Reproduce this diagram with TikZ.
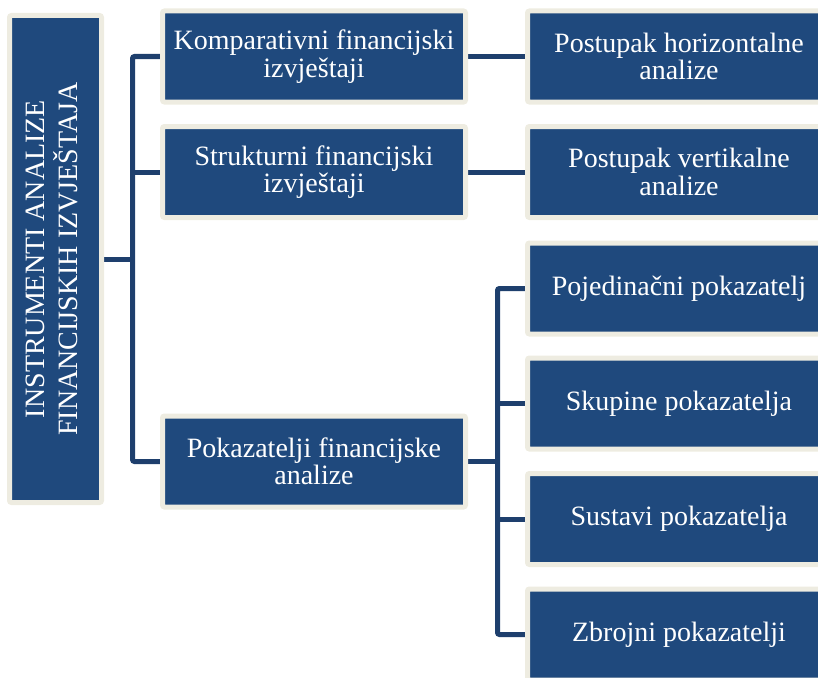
\documentclass[tikz,border=0pt]{standalone}
\usepackage{fontspec}
\setmainfont{Liberation Serif}
\usetikzlibrary{backgrounds}
\definecolor{boxfill}{HTML}{1F497D}
\definecolor{boxrim}{HTML}{EEECE1}
\definecolor{linkc}{HTML}{1E3F6D}
\begin{document}
\begin{tikzpicture}[x=1pt,y=-1pt,
  box/.style={draw=boxrim, line width=5pt, fill=boxfill, text=white,
    rounded corners=2pt, minimum width=303pt, minimum height=91pt,
    inner sep=0pt, outer sep=0pt, align=center,
    font=\fontsize{28}{27.5}\selectfont},
  rootbox/.style={box, minimum width=92pt, minimum height=487pt},
  link/.style={draw=linkc, line width=5pt, rounded corners=2pt}]
\useasboundingbox (0,0) rectangle (818,677);
\clip (0,0) rectangle (818,677);

\node[rootbox] (root) at (55.5,259)
  {\rotatebox{90}{\fontsize{28}{28}\selectfont\begin{tabular}{@{}c@{}}INSTRUMENTI ANALIZE\\FINANCIJSKIH IZVJEŠTAJA\end{tabular}}};

\node[box] (kfi) at (314,56.5) {Komparativni financijski\\izvještaji};
\node[box] (sfi) at (314,172) {Strukturni financijski\\izvještaji};
\node[box] (pfa) at (314,461.5) {Pokazatelji financijske\\analize};

\node[box] (pha) at (679,56.5) {Postupak horizontalne\\analize};
\node[box] (pva) at (679,172) {Postupak vertikalne\\analize};
\node[box] (pp1) at (679,288.5) {Pojedinačni pokazatelj};
\node[box] (pp2) at (679,403.5) {Skupine pokazatelja};
\node[box] (pp3) at (679,519) {Sustavi pokazatelja};
\node[box] (pp4) at (679,634.5) {Zbrojni pokazatelji};

\coordinate (bx1) at (132.5,0);
\coordinate (bx2) at (497.5,0);

\begin{scope}[on background layer]
  \draw[link] (root.east) -- (root.east -| bx1);
  \draw[link] (kfi.west) -- (kfi.west -| bx1) -- (pfa.west -| bx1) -- (pfa.west);
  \draw[link] (sfi.west) -- (sfi.west -| bx1);
  \draw[link] (kfi.east) -- (pha.west);
  \draw[link] (sfi.east) -- (pva.west);
  \draw[link] (pfa.east) -- (pfa.east -| bx2);
  \draw[link] (pp1.west) -- (pp1.west -| bx2) -- (pp4.west -| bx2) -- (pp4.west);
  \draw[link] (pp2.west) -- (pp2.west -| bx2);
  \draw[link] (pp3.west) -- (pp3.west -| bx2);
\end{scope}
\end{tikzpicture}
\end{document}
